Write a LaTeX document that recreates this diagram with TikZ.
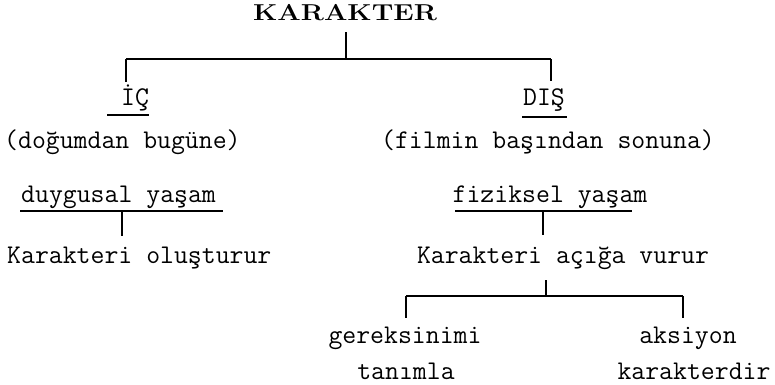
\documentclass[tikz,border=0pt]{standalone}
\usepackage{fontspec}
\begin{document}
\begin{tikzpicture}[x=1pt,y=-1pt,
  txt/.style={inner sep=0pt,anchor=base,font=\fontsize{27}{32}\ttfamily\selectfont},
  ln/.style={line width=1.3pt,line cap=butt}]
\useasboundingbox (0,0) rectangle (775,384);
% text nodes
\node[txt,font=\fontsize{23}{27}\rmfamily\bfseries\selectfont,xscale=1.2,transform shape] (kar) at (345,20) {KARAKTER};
\node[txt] (ic) at (135,105) {İÇ};
\node[txt] (dis) at (544,105) {DIŞ};
\node[txt,anchor=base west] (icnote) at (4,148) {(doğumdan bugüne)};
\node[txt] (disnote) at (548,148) {(filmin başından sonuna)};
\node[txt,anchor=base west] (duy) at (21,202) {duygusal yaşam};
\node[txt] (fiz) at (550,202) {fiziksel yaşam};
\node[txt,anchor=base west] (olus) at (7,263) {Karakteri oluşturur};
\node[txt] (aciga) at (563,263) {Karakteri açığa vurur};
\node[txt] (ger) at (405,343) {gereksinimi};
\node[txt] (tan) at (406,379) {tanımla};
\node[txt] (aks) at (688,343) {aksiyon};
\node[txt] (kard) at (694,379) {karakterdir};
% junction coordinates
\coordinate (k0) at (346,32);
\coordinate (k1) at (346,59);
\coordinate (bl) at (126,59);
\coordinate (br) at (551,59);
\coordinate (ble) at (126,82);
\coordinate (bre) at (551,81);
\coordinate (u1a) at (107,115); \coordinate (u1b) at (149,115);
\coordinate (u2a) at (522,117); \coordinate (u2b) at (567,117);
\coordinate (u3a) at (20,211);  \coordinate (u3b) at (223,211);
\coordinate (u4a) at (455,211); \coordinate (u4b) at (632,211);
\coordinate (d1a) at (122,211); \coordinate (d1b) at (122,236);
\coordinate (d2a) at (543,211); \coordinate (d2b) at (543,235);
\coordinate (v0) at (546,280); \coordinate (v1) at (546,296);
\coordinate (hl) at (406,296); \coordinate (hr) at (683,296);
\coordinate (hle) at (406,318); \coordinate (hre) at (683,318);
% connectors
\draw[ln] (k0) -- (k1);
\draw[ln] (bl) -- (br);
\draw[ln] (bl) -- (ble);
\draw[ln] (br) -- (bre);
\draw[ln] (u1a) -- (u1b);
\draw[ln] (u2a) -- (u2b);
\draw[ln] (u3a) -- (u3b);
\draw[ln] (u4a) -- (u4b);
\draw[ln] (d1a) -- (d1b);
\draw[ln] (d2a) -- (d2b);
\draw[ln] (v0) -- (v1);
\draw[ln] (hl) -- (hr);
\draw[ln] (hl) -- (hle);
\draw[ln] (hr) -- (hre);
\end{tikzpicture}
\end{document}
